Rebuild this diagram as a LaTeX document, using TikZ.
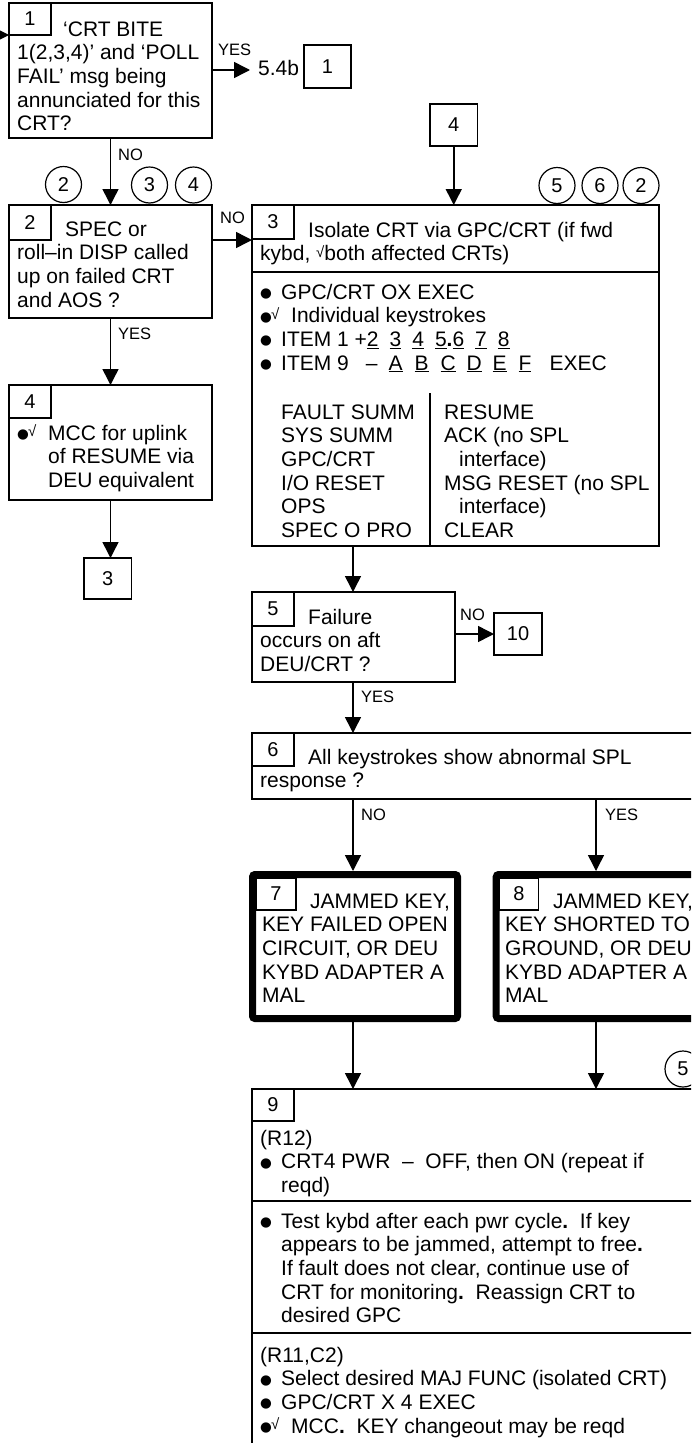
\documentclass[tikz,border=0pt]{standalone}
\usepackage{fontspec}
\setmainfont{Liberation Sans}
\newfontfamily\dejavu{DejaVu Sans}
\usepackage{graphicx}
\usetikzlibrary{arrows.meta}
\newcommand\mf{\fontsize{21}{23.6}\selectfont}
\newcommand\lf{\fontsize{16.5}{18}\selectfont}
\newcommand\nf{\fontsize{20}{22}\selectfont}
\newcommand\fl{\rule{0pt}{20pt}}
\newcommand\bdot{\raisebox{1.5pt}{\dejavu\fontsize{13.5}{13.5}\selectfont ●}}
\newcommand\bul{\makebox[21pt][l]{\bdot}}
\newcommand\chk{{\fontsize{15}{15}\selectfont\raisebox{3.5pt}{√}}}
\newcommand\bulchk{\makebox[11pt][l]{\bdot}\makebox[20pt][l]{\chk}}
\newcommand\bp{{\bfseries .}}
\newcommand\un[1]{\underline{#1}}
\begin{document}
\begin{tikzpicture}[x=1pt,y=-1pt,
  box/.style={draw, line width=1.5pt, rectangle, anchor=north west, inner sep=0pt, outer sep=0pt},
  nbox/.style={box, font=\nf},
  heavy/.style={draw, line width=7pt, rounded corners=2.5pt, rectangle, anchor=north west, inner sep=0pt, outer sep=3.5pt},
  txt/.style={anchor=north west, inner sep=0pt, align=left, font=\mf},
  lbl/.style={anchor=base west, inner sep=0pt, font=\lf},
  cnum/.style={circle, draw, line width=1.2pt, minimum size=36pt, inner sep=0pt, font=\nf},
  arr/.style={-{Triangle[width=16pt,length=16pt]}, line width=1.5pt},
  sep/.style={line width=1.5pt}]
\useasboundingbox (0,0) rectangle (691,1443);
\clip (0,0) rectangle (691,1443);

% ---------- main boxes ----------
\node[box, minimum width=203pt, minimum height=135pt] (b1) at (9,3) {};
\node[box, minimum width=203pt, minimum height=113pt] (b2) at (9,205) {};
\node[box, minimum width=203pt, minimum height=115pt] (b4) at (9,385) {};
\node[box, minimum width=407pt, minimum height=341pt] (b3) at (252,205) {};
\node[box, minimum width=203pt, minimum height=90pt] (b5) at (252,592) {};
\node[box, minimum width=460pt, minimum height=66pt] (b6) at (252,733) {};
\node[heavy, minimum width=205pt, minimum height=144pt] (b7) at (249,871) {};
\node[heavy, minimum width=230pt, minimum height=144pt] (b8) at (492.7,871) {};
\node[box, minimum width=460pt, minimum height=400pt] (b9) at (252,1089) {};

% ---------- reference boxes ----------
\node[box, font=\nf, minimum width=47pt, minimum height=43pt] (r1) at (304,45) {1};
\node[box, font=\nf, minimum width=47.5pt, minimum height=42pt] (r4) at (430,104) {4};
\node[box, font=\nf, minimum width=47.5pt, minimum height=41pt] (r3) at (84,558) {3};
\node[box, font=\nf, minimum width=48pt, minimum height=42pt] (r10) at (494,613) {10};

% ---------- number boxes ----------
\node[nbox, minimum width=42pt, minimum height=32pt] (n1) at (9,3) {1};
\node[nbox, minimum width=42pt, minimum height=35pt] (n2) at (9,205) {2};
\node[nbox, minimum width=42pt, minimum height=33pt] (n4) at (9,385) {4};
\node[nbox, minimum width=42pt, minimum height=34pt] (n3) at (252,205) {3};
\node[nbox, minimum width=42pt, minimum height=34pt] (n5) at (252,592) {5};
\node[nbox, minimum width=42pt, minimum height=33pt] (n6) at (252,733) {6};
\node[nbox, minimum width=40pt, minimum height=32pt] (n7) at (256,878) {7};
\node[nbox, minimum width=39pt, minimum height=32pt] (n8) at (499.5,878) {8};
\node[nbox, minimum width=42pt, minimum height=32pt] (n9) at (252,1089) {9};

% ---------- circled references ----------
\node[cnum] (k2) at (63.5,184.5) {2};
\node[cnum] (k3) at (149.5,185) {3};
\node[cnum] (k4) at (193.5,185) {4};
\node[cnum] (k5) at (557,185.5) {5};
\node[cnum] (k6) at (600,185.5) {6};
\node[cnum] (k2b) at (641,185.5) {2};
\node[cnum] (k5b) at (683,1069) {5};

% ---------- separators ----------
\coordinate (s1) at (0,272);
\coordinate (s2) at (0,1201);
\coordinate (s3) at (0,1333);
\coordinate (dv) at (430,393);
\draw[sep] (b3.west |- s1) -- (b3.east |- s1);
\draw[sep] (b9.west |- s2) -- (b9.east |- s2);
\draw[sep] (b9.west |- s3) -- (b9.east |- s3);
\draw[sep] (dv) -- (b3.south -| dv);

% ---------- texts ----------
\node[txt] (t1) at (17,16) {\fl\hspace*{46pt}‘CRT BITE\\1(2,3,4)’ and ‘POLL\\FAIL’ msg being\\annunciated for this\\CRT?};
\node[anchor=base west, inner sep=0pt, font=\mf] (t54) at (258,75) {5.4b};
\node[txt] (t2) at (17,216) {\fl\hspace*{48pt}SPEC or\\roll–in DISP called\\up on failed CRT\\and AOS ?};
\node[txt] (t4) at (17,420) {\fl\bulchk MCC for uplink\\\hspace*{31pt}of RESUME via\\\hspace*{31pt}DEU equivalent};
\node[txt] (t3a) at (260,217) {\fl\hspace*{48pt}Isolate CRT via GPC/CRT (if fwd\\kybd, \chk both affected CRTs)};
\node[txt] (t3b) at (260,279) {\fl\bul GPC/CRT OX EXEC\\
 \bulchk Individual keystrokes\\
 \bul ITEM 1 +\un{2}\hspace{11pt}\un{3}\hspace{11pt}\un{4}\hspace{11pt}\un{5}\bp\un{6}\hspace{11pt}\un{7}\hspace{11pt}\un{8}\\
 \bul ITEM 9\hspace{17pt}–\hspace{11pt}\makebox[26pt][l]{\un{A}}\makebox[26pt][l]{\un{B}}\makebox[26pt][l]{\un{C}}\makebox[26pt][l]{\un{D}}\makebox[26pt][l]{\un{E}}\makebox[31pt][l]{\un{F}}EXEC};
\node[txt] (t3c) at (281,399) {\fl FAULT SUMM\\SYS SUMM\\GPC/CRT\\I/O RESET\\OPS\\SPEC O PRO};
\node[txt] (t3d) at (444,399) {\fl RESUME\\ACK (no SPL\\\hspace*{15pt}interface)\\MSG RESET (no SPL\\\hspace*{15pt}interface)\\CLEAR};
\node[txt] (t5) at (260,604) {\fl\hspace*{48pt}Failure\\occurs on aft\\DEU/CRT ?};
\node[txt] (t6) at (260,744) {\fl\hspace*{48pt}All keystrokes show abnormal SPL\\response ?};
\node[txt] (t7) at (262,888) {\fl\hspace*{48pt}JAMMED KEY,\\KEY FAILED OPEN\\CIRCUIT, OR DEU\\KYBD ADAPTER A\\MAL};
\node[txt] (t8) at (505,888) {\fl\hspace*{48pt}JAMMED KEY,\\KEY SHORTED TO\\GROUND, OR DEU\\KYBD ADAPTER A\\MAL};
\node[txt] (t9a) at (260,1125) {\fl(R12)\\\bul CRT4 PWR\ \ –\ \ OFF, then ON (repeat if\\\hspace*{21pt}reqd)};
\node[txt] (t9b) at (260,1208) {\fl\bul Test kybd after each pwr cycle\bp\ \ If key\\\hspace*{21pt}appears to be jammed, attempt to free\bp\\\hspace*{21pt}If fault does not clear, continue use of\\\hspace*{21pt}CRT for monitoring\bp\ \ Reassign CRT to\\\hspace*{21pt}desired GPC};
\node[txt] (t9c) at (260,1342) {\fl(R11,C2)\\\bul Select desired MAJ FUNC (isolated CRT)\\\bul GPC/CRT X 4 EXEC\\\bulchk MCC\bp\ \ KEY changeout may be reqd};

% ---------- connectors ----------
\coordinate (pin) at (0,35);
\coordinate (p54) at (250,70);
\coordinate (c1) at (353,0);
\coordinate (c2) at (596,0);
\draw[arr] (pin) -- (n1.south west);
\draw[arr] (b1.east |- p54) -- (p54);
\draw[arr] (b1.south) -- (b2.north);
\draw[arr] (b2.east |- n2.south) -- (b3.west |- n2.south);
\draw[arr] (b2.south) -- (b4.north);
\draw[arr] (b4.south) -- (b4.south |- r3.north);
\draw[arr] (r4.south) -- (r4.south |- b3.north);
\draw[arr] (b3.south -| c1) -- (b5.north -| c1);
\draw[arr] (b5.east |- r10.west) -- (r10.west);
\draw[arr] (b5.south -| c1) -- (b6.north -| c1);
\draw[arr] (b6.south -| c1) -- (b7.north -| c1);
\draw[arr] (b6.south -| c2) -- (b8.north -| c2);
\draw[arr] (b7.south -| c1) -- (b9.north -| c1);
\draw[arr] (b8.south -| c2) -- (b9.north -| c2);

% ---------- connector labels ----------
\node[lbl] (l1) at (218,55) {YES};
\node[lbl] (l2) at (118,160) {NO};
\node[lbl] (l3) at (220,223) {NO};
\node[lbl] (l4) at (118,339) {YES};
\node[lbl] (l5) at (460,620) {NO};
\node[lbl] (l6) at (361,702) {YES};
\node[lbl] (l7) at (361,820) {NO};
\node[lbl] (l8) at (605,820) {YES};
\end{tikzpicture}
\end{document}
